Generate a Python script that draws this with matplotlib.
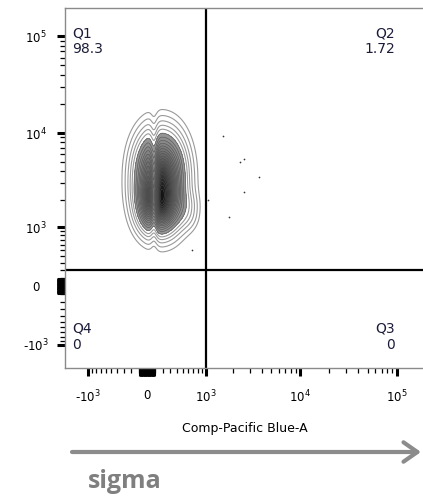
import numpy as np
import matplotlib
matplotlib.use("Agg")
import matplotlib.pyplot as plt
from matplotlib.patches import FancyArrowPatch

# display transform: arcsinh with a linear zone around zero (biexponential look)
WIDTH = 524.0
GAIN = 42.0


def fwd(v):
    return GAIN * np.arcsinh(np.asarray(v, dtype=float) / WIDTH)


def inv(t):
    return WIDTH * np.sinh(np.asarray(t, dtype=float) / GAIN)


# quadrant gate
gate_x = 1000
gate_y = 210
quad_names = ["Q1", "Q2", "Q3", "Q4"]
quad_pcts = ["98.3", "1.72", "0", "0"]

# population components (centre in data units, spread in display units)
pop_cx = [164, 138, 542]
pop_cy = [3250, 1765, 1550]
pop_sx = [14.5, 11.0, 8.0]
pop_sy = [27.0, 16.0, 12.0]
pop_w = [1.0, 0.6, 0.08]
stripe_x = 88
stripe_w = 3.0
stripe_depth = 0.55

# scattered events outside the contours
dot_x = [1540, 2370, 2640, 3780, 2620, 1810, 1070, 672]
dot_y = [9380, 5000, 5340, 3520, 2430, 1295, 1995, 507]

# contour levels (fraction of peak density)
outer_levels = [0.012, 0.025, 0.045, 0.07, 0.1, 0.14]
inner_levels = list(np.linspace(0.14, 1.01, 20))

# axis ticks: labelled decades, a dense unlabelled cluster around zero
decade_vals = [-1000, 0, 1000, 10000, 100000]
decade_labels = [r"-10$^\mathregular{3}$", "0", r"10$^\mathregular{3}$",
                 r"10$^\mathregular{4}$", r"10$^\mathregular{5}$"]
zero_cluster = [s * k for s in (-1, 1) for k in range(10, 100, 10)]
minor_vals = ([s * k for s in (-1, 1) for k in range(100, 1000, 100)]
              + list(range(2000, 10000, 1000))
              + list(range(20000, 100000, 10000)))

lo, hi = inv(-82), inv(278)

fig = plt.figure(figsize=(4.23, 4.97), dpi=100)
ax = fig.add_axes([65 / 423, (497 - 368) / 497, 360 / 423, 360 / 497])
ax.set_xscale("function", functions=(fwd, inv))
ax.set_yscale("function", functions=(fwd, inv))

# density on a grid that is even in display units
t = np.linspace(-82, 278, 600)
TX, TY = np.meshgrid(t, t)
dens = np.zeros_like(TX)
for cx, cy, sx, sy, w in zip(pop_cx, pop_cy, pop_sx, pop_sy, pop_w):
    dx = np.abs((TX - fwd(cx)) / sx)
    dy = np.abs((TY - fwd(cy)) / sy)
    dens += w * np.exp(-0.5 * (dx ** 2.2 + dy ** 2.2))
dens *= 1 - stripe_depth * np.exp(-0.5 * ((TX - fwd(stripe_x)) / stripe_w) ** 2)
dens /= dens.max()
X, Y = inv(TX), inv(TY)

ax.contour(X, Y, dens, levels=outer_levels, colors="#9a9a9a", linewidths=0.8)
fills = plt.cm.Greys(np.linspace(0.5, 0.93, len(inner_levels) - 1))
ax.contourf(X, Y, dens, levels=inner_levels, colors=fills)
ax.contour(X, Y, dens, levels=inner_levels, colors="#505050", linewidths=0.35)

ax.scatter(dot_x, dot_y, s=1.5, color="#333333", linewidths=0)

ax.axvline(gate_x, color="black", lw=1.6)
ax.axhline(gate_y, color="black", lw=1.6)

ax.set_xlim(lo, hi)
ax.set_ylim(lo, hi)

major_vals = decade_vals + zero_cluster
major_labels = decade_labels + [""] * len(zero_cluster)
for axis in (ax.xaxis, ax.yaxis):
    axis.set_ticks(major_vals)
    axis.set_ticklabels(major_labels)
    axis.set_ticks(minor_vals, minor=True)
ax.tick_params(which="major", length=6, width=2.2, color="black",
               labelsize=8.5)
ax.tick_params(which="minor", length=3.5, width=0.9, color="black")
ax.tick_params(axis="x", which="major", pad=9)
ax.tick_params(axis="y", which="major", pad=15)
for lab in ax.get_yticklabels():
    lab.set_horizontalalignment("center")

for side in ("left", "top", "bottom"):
    ax.spines[side].set_color("#8a8a8a")
    ax.spines[side].set_linewidth(1.0)
ax.spines["right"].set_visible(False)

ax.set_xlabel("Comp-Pacific Blue-A", fontsize=9, labelpad=12)

qcol = "#1c1c38"
ax.text(0.02, 0.95, f"{quad_names[0]}\n{quad_pcts[0]}", transform=ax.transAxes,
        ha="left", va="top", fontsize=10, color=qcol, linespacing=1.15)
ax.text(0.917, 0.95, f"{quad_names[1]}\n{quad_pcts[1]}", transform=ax.transAxes,
        ha="right", va="top", fontsize=10, color=qcol, linespacing=1.15,
        multialignment="right")
ax.text(0.917, 0.128, f"{quad_names[2]}\n{quad_pcts[2]}", transform=ax.transAxes,
        ha="right", va="top", fontsize=10, color=qcol, linespacing=1.15,
        multialignment="right")
ax.text(0.02, 0.128, f"{quad_names[3]}\n{quad_pcts[3]}", transform=ax.transAxes,
        ha="left", va="top", fontsize=10, color=qcol, linespacing=1.15)

# grey arrow and caption under the plot
arrow = FancyArrowPatch((72 / 423, 1 - 452 / 497), (421 / 423, 1 - 452 / 497),
                        transform=fig.transFigure, color="#8c8c8c", lw=3,
                        arrowstyle="->,head_length=0.5,head_width=0.35",
                        mutation_scale=20, shrinkA=0, shrinkB=0)
fig.add_artist(arrow)
fig.text(88 / 423, 1 - 481 / 497, "sigma", fontsize=18, fontweight="bold",
         color="#7f7f7f", family="Open Sans", ha="left", va="center")

fig.savefig("out.png", dpi=100)
